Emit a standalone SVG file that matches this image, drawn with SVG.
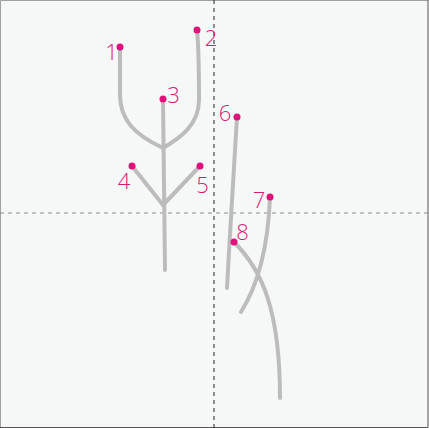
<svg xmlns="http://www.w3.org/2000/svg" width="429" height="428" viewBox="0 0 429 428">
<style>
.s{fill:none;stroke:#bcbcbc;stroke-width:4;stroke-linecap:round;stroke-linejoin:round}
.d{fill:#e0117a}
.t{fill:#d81b72;font-family:"Open Sans",sans-serif;font-weight:300;font-size:22px;text-anchor:middle}
</style>
<rect x="0" y="0" width="429" height="428" fill="#f6f8f7"/>
<path d="M0.5 428V0.5H428" fill="none" stroke="#a0a0a0" stroke-width="1"/>
<path d="M428 0V427.5H0" fill="none" stroke="#555" stroke-width="1"/>
<line x1="0" y1="213" x2="429" y2="213" stroke="#888" stroke-width="1" stroke-dasharray="4,4"/>
<line x1="214" y1="0" x2="214" y2="428" stroke="#222" stroke-width="1" stroke-dasharray="4,4"/>
<g id="connectors">
<path id="s1" class="s" d="M120 47V95C120 120 135 135 163 148"/>
<path id="s2" class="s" d="M197 30C199 50 199 70 199 100C199 125 180 138 163 148"/>
<path id="s3" class="s" d="M163 99L165 270"/>
<path id="s4" class="s" d="M132 166L163 205"/>
<path id="s5" class="s" d="M200 166L163 205"/>
<path id="s6" class="s" d="M237 117C234 170 230 230 227 288"/>
<path id="s7" class="s" d="M270 197C268 250 258 285 241 312"/>
<path id="s8" class="s" d="M234 242C262 270 280 310 280 398"/>
</g>
<g id="n1"><circle class="d" cx="120" cy="47" r="3.5"/><text class="t" x="111.5" y="59.5">1</text></g>
<g id="n2"><circle class="d" cx="197" cy="30" r="3.5"/><text class="t" x="211" y="45.5">2</text></g>
<g id="n3"><circle class="d" cx="163" cy="99" r="3.5"/><text class="t" x="173.5" y="103">3</text></g>
<g id="n4"><circle class="d" cx="132" cy="166" r="3.5"/><text class="t" x="124" y="188.5">4</text></g>
<g id="n5"><circle class="d" cx="200" cy="166" r="3.5"/><text class="t" x="202.5" y="193">5</text></g>
<g id="n6"><circle class="d" cx="237" cy="117" r="3.5"/><text class="t" x="225" y="121">6</text></g>
<g id="n7"><circle class="d" cx="270" cy="197" r="3.5"/><text class="t" x="259" y="208">7</text></g>
<g id="n8"><circle class="d" cx="234" cy="242" r="3.5"/><text class="t" x="242.5" y="240">8</text></g>
</svg>
